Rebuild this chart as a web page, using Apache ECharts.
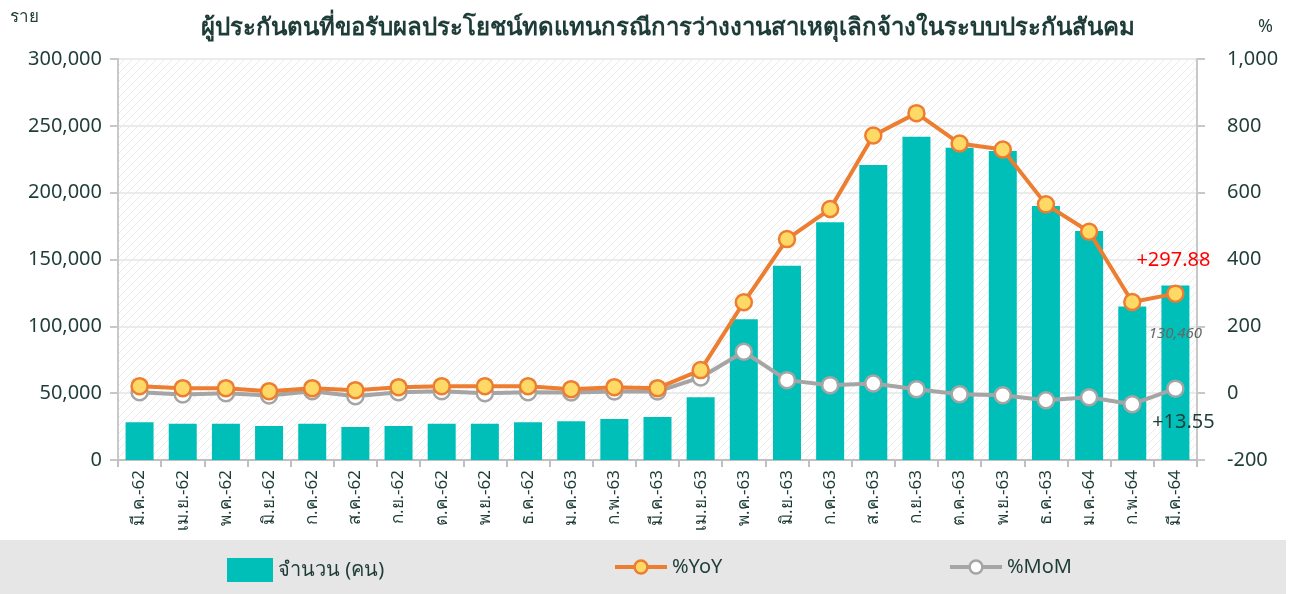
<!DOCTYPE html>
<html>
<head>
<meta charset="utf-8">
<script src="https://cdn.jsdelivr.net/npm/echarts@6/dist/echarts.min.js"></script>
<style>
html,body{margin:0;padding:0;background:#fff;}
#c{width:1296px;height:594px;}
</style>
</head>
<body>
<div id="c"></div>
<script>
const categories = ['มี.ค.-62','เม.ย.-62','พ.ค.-62','มิ.ย.-62','ก.ค.-62','ส.ค.-62','ก.ย.-62','ต.ค.-62','พ.ย.-62','ธ.ค.-62','ม.ค.-63','ก.พ.-63','มี.ค.-63','เม.ย.-63','พ.ค.-63','มิ.ย.-63','ก.ค.-63','ส.ค.-63','ก.ย.-63','ต.ค.-63','พ.ย.-63','ธ.ค.-63','ม.ค.-64','ก.พ.-64','มี.ค.-64'];
const persons = [28200,27150,27150,25400,27150,24700,25400,27150,27150,28200,28950,30700,32200,46900,105250,145350,177800,220700,241900,233600,231100,190000,171300,114900,130460];
const yoy = [21,15,15,6,15,9,18,21,21,21,12,18,15,69,272,461,551,771,838,747,729,565,483,273,297.88];
const mom = [3,-4,0,-7,6,-9,3,6,0,3,2,5,5,47,124,39,24,29,12,-3,-6,-21,-12,-33,13.55];
const seriesNames = ['จำนวน (คน)','%YoY','%MoM'];
const titleText = 'ผู้ประกันตนที่ขอรับผลประโยชน์ทดแทนกรณีการว่างงานสาเหตุเลิกจ้างในระบบประกันสันคม';

const FONT = '"Noto Sans", "DejaVu Sans", sans-serif';
const DARK = '#1f3d38';

// hatched background pattern
const pc = document.createElement('canvas');
pc.width = 8; pc.height = 8;
const g = pc.getContext('2d');
g.fillStyle = '#ffffff'; g.fillRect(0,0,8,8);
g.strokeStyle = '#ececec'; g.lineWidth = 1;
g.beginPath(); g.moveTo(0,8); g.lineTo(8,0); g.moveTo(-1,1); g.lineTo(1,-1); g.moveTo(7,9); g.lineTo(9,7); g.stroke();

const last = categories.length - 1;
const barData = persons.map((v,i)=> i===last ? {value:v, label:{show:true, position:'insideTop', offset:[0,36], formatter:(p)=>p.value.toLocaleString('en-US'), color:'#666', fontStyle:'italic', fontSize:15, fontFamily:FONT}} : v);
const yoyData = yoy.map((v,i)=> i===last ? {value:v, label:{show:true, position:'top', distance:14, offset:[-2,0], formatter:(p)=>'+'+p.value.toFixed(2), color:'#ff0000', fontSize:20, fontFamily:FONT}} : v);
const momData = mom.map((v,i)=> i===last ? {value:v, label:{show:true, position:'bottom', distance:14, offset:[8,0], formatter:(p)=>'+'+p.value.toFixed(2), color:DARK, fontSize:20, fontFamily:FONT}} : v);

const legendText = {fontSize:20, color:DARK, fontFamily:FONT};
const chart = echarts.init(document.getElementById('c'));
chart.setOption({
  animation:false,
  backgroundColor:'#ffffff',
  textStyle:{fontFamily:FONT},
  title:{text:titleText, left:196, top:11, textStyle:{fontSize:24, fontWeight:'bold', color:DARK, fontFamily:FONT}},
  graphic:[
    {type:'rect', left:0, top:540, shape:{width:1286, height:54}, style:{fill:'#e6e6e6'}, z:-10},
    {type:'text', left:10, top:9, style:{text:'ราย', fontSize:17, fill:DARK, fontFamily:FONT}},
    {type:'text', left:1258, top:18, style:{text:'%', fontSize:18, fill:DARK, fontFamily:FONT}}
  ],
  legend:[
    {data:[{name:seriesNames[0], icon:'rect'}], left:222, top:553, itemWidth:46, itemHeight:24, itemGap:4, textStyle:legendText},
    {data:[{name:seriesNames[1]}], left:608, top:552, itemWidth:52, itemHeight:16, textStyle:legendText,
     lineStyle:{width:4}, itemStyle:{borderWidth:2.5}},
    {data:[{name:seriesNames[2]}], left:943, top:552, itemWidth:52, itemHeight:16, textStyle:legendText,
     lineStyle:{width:4}, itemStyle:{borderWidth:2.5}}
  ],
  grid:{left:118, right:99, top:59, bottom:134, show:true, borderWidth:0, backgroundColor:{image:pc, repeat:'repeat'}},
  xAxis:{
    type:'category', data:categories, boundaryGap:true,
    axisLine:{lineStyle:{color:'#c0c0c0', width:2}},
    axisTick:{show:true, length:7, lineStyle:{color:'#c0c0c0', width:2}},
    axisLabel:{rotate:90, fontSize:17, color:DARK, margin:10, interval:0, fontFamily:FONT}
  },
  yAxis:[
    {type:'value', min:0, max:300000, interval:50000,
     axisLine:{show:true, lineStyle:{color:'#c8c8c8', width:2}},
     axisTick:{show:true, length:8, lineStyle:{color:'#c8c8c8', width:2}},
     splitLine:{show:true, lineStyle:{color:'#ebebeb', width:2}},
     axisLabel:{fontSize:20, color:DARK, margin:16, fontFamily:FONT, formatter:(v)=>v.toLocaleString('en-US')}},
    {type:'value', min:-200, max:1000, interval:200, position:'right',
     axisLine:{show:true, lineStyle:{color:'#c8c8c8', width:2}},
     axisTick:{show:true, length:8, lineStyle:{color:'#c8c8c8', width:2}},
     splitLine:{show:false},
     axisLabel:{fontSize:20, color:DARK, margin:30, fontFamily:FONT, formatter:(v)=>v.toLocaleString('en-US')}}
  ],
  series:[
    {name:seriesNames[0], type:'bar', data:barData, yAxisIndex:0, barWidth:28,
     itemStyle:{color:'#00bfb9'}},
    {name:seriesNames[1], type:'line', data:yoyData, yAxisIndex:1, symbol:'circle', symbolSize:16,
     lineStyle:{color:'#ed7d31', width:4},
     itemStyle:{color:'#ffd966', borderColor:'#ed7d31', borderWidth:2.5}, z:4},
    {name:seriesNames[2], type:'line', data:momData, yAxisIndex:1, symbol:'circle', symbolSize:16,
     lineStyle:{color:'#a5a5a5', width:4},
     itemStyle:{color:'#ffffff', borderColor:'#a5a5a5', borderWidth:2.5}, z:3}
  ]
});
</script>
</body>
</html>
